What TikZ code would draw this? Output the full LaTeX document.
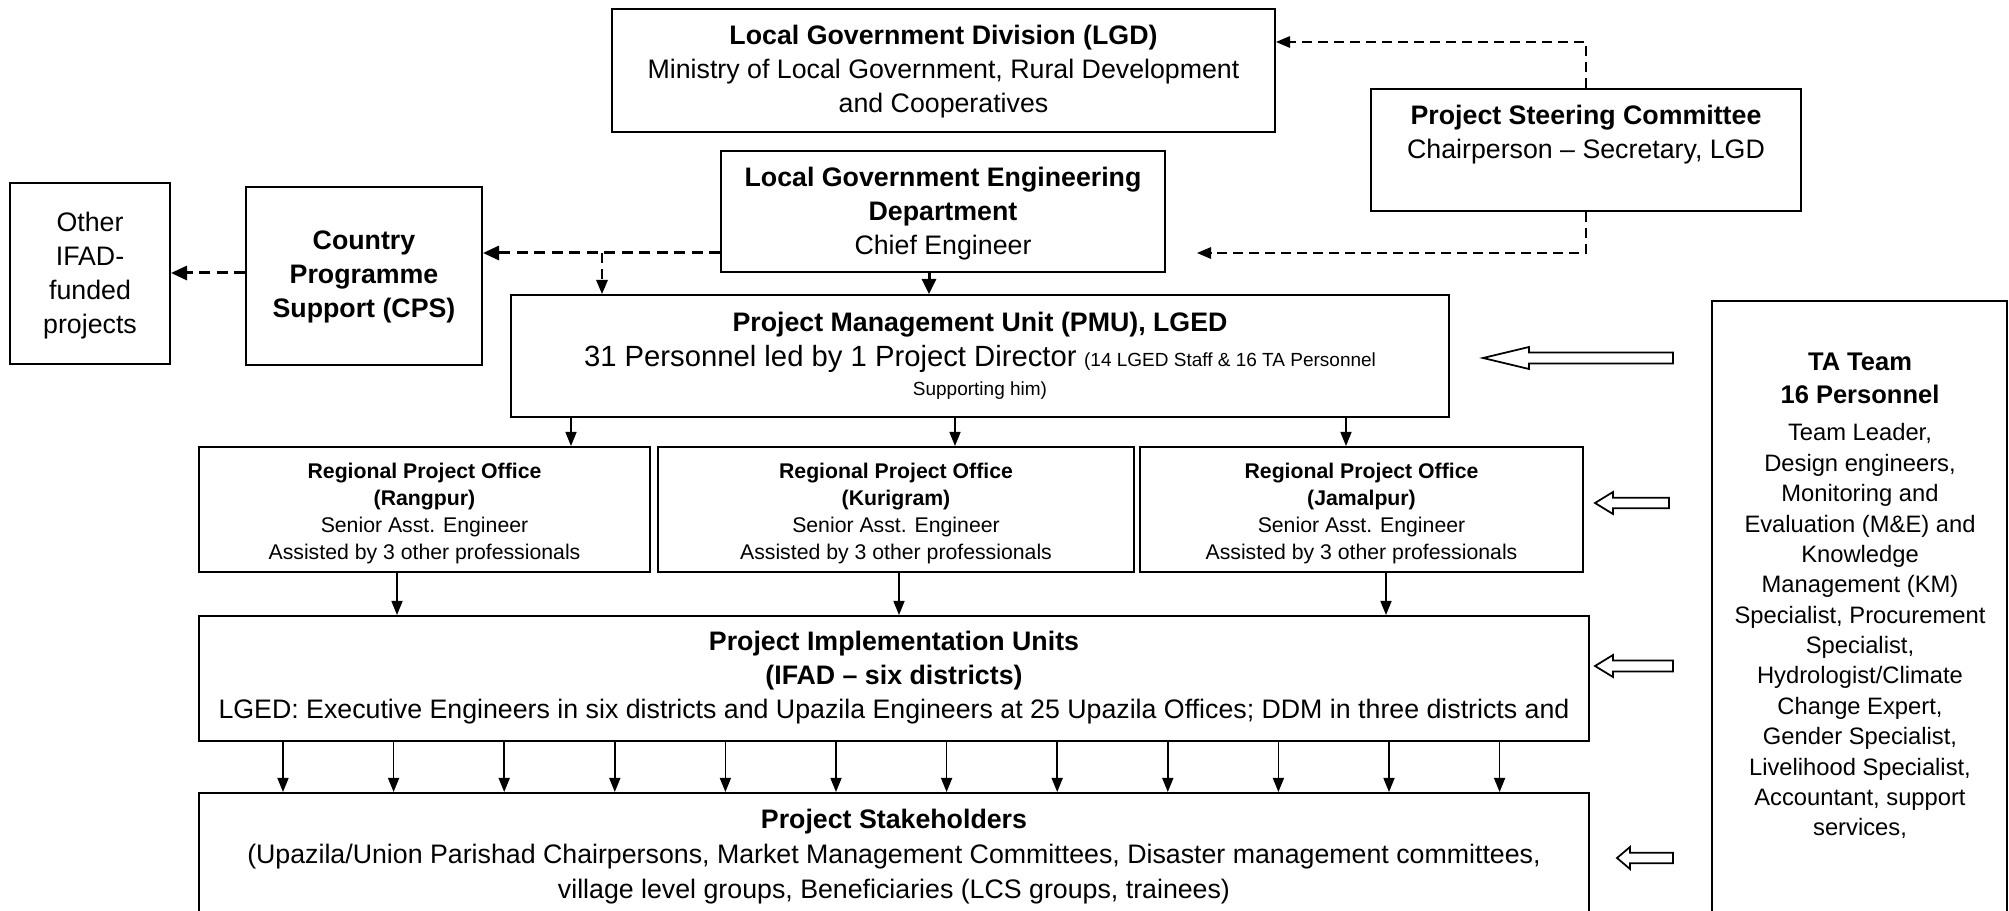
\documentclass[tikz,border=0pt]{standalone}
\usepackage{fontspec}
\setmainfont{Liberation Sans}
\usetikzlibrary{arrows.meta,fit,calc}

\newcommand\fmain{\fontsize{10.7pt}{13.6pt}\selectfont}
\newcommand\fpsc{\fontsize{10.7pt}{13.8pt}\selectfont}
\newcommand\frpo{\fontsize{8.5pt}{10.8pt}\selectfont}
\newcommand\fta{\fontsize{9.5pt}{12.15pt}\selectfont}
\newcommand\ftatitle{\fontsize{10.2pt}{13.3pt}\selectfont}
\newcommand\fbig{\fontsize{11.7pt}{13.6pt}\selectfont}
\newcommand\fsmall{\fontsize{7.6pt}{12pt}\selectfont}
\newcommand\blockarrow[6]{\draw[harrow] (#1,#2) -- ({#3},{#2-#5}) -- ({#3},{#2-#6}) -- ({#4},{#2-#6}) -- ({#4},{#2+#6}) -- ({#3},{#2+#6}) -- ({#3},{#2+#5}) -- cycle;}

\tikzset{
 box/.style={draw, line width=0.8pt, inner sep=0pt},
 txt/.style={align=center, inner sep=0pt, font=\fmain},
 arr/.style={line width=0.6pt, -{Triangle[length=5.6pt,width=4.4pt]}},
 darr/.style={line width=0.6pt, dash pattern=on 4pt off 2.4pt, -{Triangle[length=5.6pt,width=4.6pt]}},
 tdarr/.style={line width=1.2pt, dash pattern=on 4.4pt off 2.6pt, -{Triangle[length=6.4pt,width=5.6pt]}},
 harrow/.style={draw, line width=0.7pt, fill=white, line join=miter},
}

\begin{document}
\begin{tikzpicture}[x=0.4pt,y=-0.4pt]
\useasboundingbox (0,0) rectangle (2009,911);
\clip (0,0) rectangle (2009,911);

% boxes
\node[box, fit={(612,9) (1275,132)}] (lgd) {};
\node[box, fit={(1371,89) (1801,211)}] (psc) {};
\node[box, fit={(721,151) (1165,272)}] (lged) {};
\node[box, fit={(246,187) (482,365)}] (cps) {};
\node[box, fit={(10,183) (170,364)}] (other) {};
\node[box, fit={(511,295) (1449,417)}] (pmu) {};
\node[box, fit={(1712,301) (2007,960)}] (ta) {};
\node[box, fit={(199,447) (650,572)}] (rpoA) {};
\node[box, fit={(658,447) (1134,572)}] (rpoB) {};
\node[box, fit={(1140,447) (1583,572)}] (rpoC) {};
\node[box, fit={(199,616) (1589,741)}] (piu) {};
\node[box, fit={(199,793) (1589,960)}] (stake) {};

% texts
\node[txt] (lgdt) at (943.5,72) {\textbf{Local Government Division (LGD)}\\Ministry of Local Government, Rural Development\\and Cooperatives};
\node[txt, font=\fpsc] (psct) at (1586,134.5) {\textbf{Project Steering Committee}\\Chairperson -- Secretary, LGD};
\node[txt] (lgedt) at (943,213.5) {\textbf{Local Government Engineering}\\\textbf{Department}\\Chief Engineer};
\node[txt] (cpst) at (364,277) {\textbf{Country}\\\textbf{Programme}\\\textbf{Support (CPS)}};
\node[txt] (othert) at (90,275.5) {Other\\IFAD-\\funded\\projects};
\node[txt] (pmut) at (980,356) {\textbf{Project Management Unit (PMU), LGED}\\[0.4pt]{\fbig 31 Personnel led by 1 Project Director} {\fsmall(14 LGED Staff \& 16 TA Personnel}\\[-2pt]{\fsmall Supporting him)}};
\node[txt, font=\frpo] (rpoAt) at (424.5,514) {\textbf{Regional Project Office}\\\textbf{(Rangpur)}\\Senior Asst. Engineer\\Assisted by 3 other professionals};
\node[txt, font=\frpo] (rpoBt) at (896,514) {\textbf{Regional Project Office}\\\textbf{(Kurigram)}\\Senior Asst. Engineer\\Assisted by 3 other professionals};
\node[txt, font=\frpo] (rpoCt) at (1361.5,514) {\textbf{Regional Project Office}\\\textbf{(Jamalpur)}\\Senior Asst. Engineer\\Assisted by 3 other professionals};
\node[txt] (piut) at (894,678) {\textbf{Project Implementation Units}\\\textbf{(IFAD -- six districts)}\\LGED: Executive Engineers in six districts and Upazila Engineers at 25 Upazila Offices; DDM in three districts and};
\node[txt] (staket) at (894,857) {\textbf{Project Stakeholders}\\[0.4pt](Upazila/Union Parishad Chairpersons, Market Management Committees, Disaster management committees,\\[0.4pt]village level groups, Beneficiaries (LCS groups, trainees)};
\node[txt, font=\fta] (tat) at (1860,596) {{\ftatitle\bfseries TA Team}\\[1.15pt]{\ftatitle\bfseries 16 Personnel}\\[2.65pt]Team Leader,\\Design engineers,\\Monitoring and\\Evaluation (M\&E) and\\Knowledge\\Management (KM)\\Specialist, Procurement\\Specialist,\\Hydrologist/Climate\\Change Expert,\\Gender Specialist,\\Livelihood Specialist,\\Accountant, support\\services,};

% dashed connectors
\draw[darr] (psc.north) |- (lgd.east |- 0,42);
\coordinate (pscend) at (1197,253);
\draw[darr] (psc.south) |- (pscend);
\draw[tdarr] (lged.west |- 0,253) -- (cps.east |- 0,253);
\coordinate (j1) at (602,253);
\draw[darr] (j1) -- (pmu.north -| j1);
\draw[tdarr] (cps.west |- 0,273) -- (other.east |- 0,273);

% solid connectors
\draw[line width=1.2pt, -{Triangle[length=6pt,width=5.6pt]}] (lged.south -| 929,0) -- (pmu.north -| 929,0);
\foreach \x/\r in {571/rpoA, 955/rpoB, 1346/rpoC}
  \draw[arr] (pmu.south -| \x,0) -- (\r.north -| \x,0);
\foreach \x/\r in {397/rpoA, 899/rpoB, 1386/rpoC}
  \draw[arr] (\r.south -| \x,0) -- (piu.north -| \x,0);
\foreach \i in {0,...,11}{
  \pgfmathsetmacro\xx{283+110.6*\i}
  \draw[arr] (piu.south -| \xx,0) -- (stake.north -| \xx,0);
}

% hollow block arrows
\blockarrow{1483}{358}{1529}{1673}{11}{5.5}
\blockarrow{1595}{503}{1613}{1669}{11}{5.3}
\blockarrow{1595}{666}{1613}{1673}{11}{5.5}
\blockarrow{1617}{858}{1630}{1673}{11}{5.3}
\end{tikzpicture}
\end{document}
